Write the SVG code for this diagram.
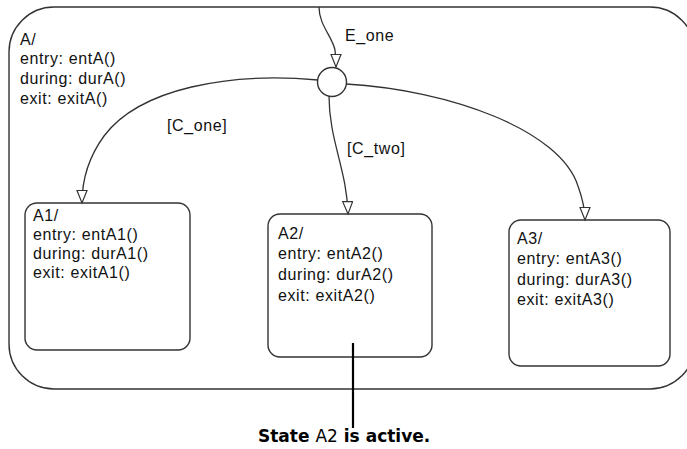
<svg xmlns="http://www.w3.org/2000/svg" width="687" height="449" viewBox="0 0 687 449">
<style>
.st{fill:none;stroke:#333;stroke-width:1.4}
.tx{font-family:"Liberation Sans",Arial,sans-serif;font-size:16px;letter-spacing:0.6px;fill:#111}
.tr{fill:none;stroke:#333;stroke-width:1.3}
.note{font-family:"DejaVu Sans",sans-serif;font-weight:bold;font-size:17px;fill:#000}
</style>
<defs>
<marker id="arr" markerUnits="userSpaceOnUse" markerWidth="16" markerHeight="14" refX="13" refY="5.5" orient="auto" viewBox="0 0 16 14">
<path d="M0.5,0.5 L13,5.5 L0.5,10.5 Z" fill="#fff" stroke="#333" stroke-width="1.2"/>
</marker>
</defs>
<g id="A">
<rect class="st" x="9" y="7" width="686" height="382" rx="45" ry="45"/>
<text class="tx" x="20" y="45">A/</text>
<text class="tx" x="20" y="64">entry: entA()</text>
<text class="tx" x="20" y="84">during: durA()</text>
<text class="tx" x="20" y="104">exit: exitA()</text>
</g>
<g id="A1">
<rect class="st" x="25" y="203" width="165" height="147" rx="12" ry="12"/>
<text class="tx" x="33" y="221">A1/</text>
<text class="tx" x="33" y="240">entry: entA1()</text>
<text class="tx" x="33" y="259">during: durA1()</text>
<text class="tx" x="33" y="278">exit: exitA1()</text>
</g>
<g id="A2">
<rect class="st" x="268" y="214" width="164" height="143" rx="12" ry="12"/>
<text class="tx" x="278" y="239">A2/</text>
<text class="tx" x="278" y="259">entry: entA2()</text>
<text class="tx" x="278" y="280">during: durA2()</text>
<text class="tx" x="278" y="301">exit: exitA2()</text>
</g>
<g id="A3">
<rect class="st" x="509" y="220" width="161" height="146" rx="12" ry="12"/>
<text class="tx" x="517" y="244">A3/</text>
<text class="tx" x="517" y="264">entry: entA3()</text>
<text class="tx" x="517" y="285">during: durA3()</text>
<text class="tx" x="517" y="305">exit: exitA3()</text>
</g>
<g id="junction">
<circle class="st" cx="332" cy="82" r="14.5" fill="#fff"/>
</g>
<g id="connectors">
<path class="tr" d="M319,7 C319,25 332,36 335,50 C336,58 336,63 336,67" marker-end="url(#arr)"/>
<text class="tx" x="345" y="41">E_one</text>
<path class="tr" d="M318,80 C230,72 140,88 104,136 C88,158 82,180 82,203" marker-end="url(#arr)"/>
<text class="tx" x="167" y="131">[C_one]</text>
<path class="tr" d="M329,96 C329,140 347,170 348,214" marker-end="url(#arr)"/>
<text class="tx" x="347" y="154">[C_two]</text>
<path class="tr" d="M346,84 C450,90 560,130 578,186 C583,200 585,210 585,220" marker-end="url(#arr)"/>
</g>
<g id="annotation">
<line x1="353" y1="343" x2="353" y2="428" stroke="#000" stroke-width="2.2"/>
<text class="note" x="258" y="442">State <tspan font-weight="normal">A2</tspan> is active.</text>
</g>
</svg>
